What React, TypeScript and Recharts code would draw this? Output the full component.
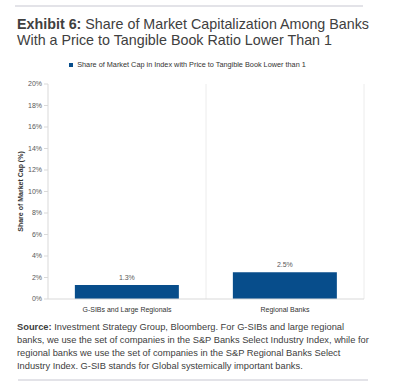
import React from 'react';
import { BarChart, Bar, XAxis, YAxis, CartesianGrid, Legend, LabelList } from 'recharts';

const categories = ['G-SIBs and Large Regionals', 'Regional Banks'];
const shareValues = [1.3, 2.5];
const yTicks = [0, 2, 4, 6, 8, 10, 12, 14, 16, 18, 20];

const data = categories.map((name, i) => ({ name, share: shareValues[i] }));

const font = 'Arial, "Liberation Sans", sans-serif';
const textGray = '#595959';

export default function App() {
  return (
    <div style={{ position: 'absolute', left: 0, top: 0, width: 395, height: 385, background: '#fff', fontFamily: font }}>
      <div style={{ position: 'absolute', left: 15, top: 5, width: 348, height: 2, background: '#e3e3e8' }} />
      <div style={{ position: 'absolute', left: 17, top: 16, fontSize: 14.3, lineHeight: '16px', color: '#404040' }}>
        <b>Exhibit 6:</b> Share of Market Capitalization Among Banks
        <br />
        With a Price to Tangible Book Ratio Lower Than 1
      </div>
      <div style={{ position: 'absolute', left: 0, top: 0 }}>
        <BarChart
          width={395}
          height={385}
          data={data}
          margin={{ top: 75, right: 31, left: 8, bottom: 66 }}
          barCategoryGap="17%"
        >
          <CartesianGrid
            horizontal={false}
            stroke="#ececec"
            verticalCoordinatesGenerator={({ offset }: any) => [
              offset.left + offset.width / 2,
              offset.left + offset.width,
            ]}
          />
          <XAxis
            dataKey="name"
            tickLine={false}
            axisLine={{ stroke: '#d9d9d9' }}
            tick={{ fontSize: 7, fill: '#333' }}
            height={20}
          />
          <YAxis
            domain={[0, 20]}
            ticks={yTicks}
            width={40}
            tickFormatter={(v: number) => `${v}%`}
            tick={{ fontSize: 7, fill: textGray }}
            tickSize={4}
            tickLine={{ stroke: '#d9d9d9' }}
            axisLine={{ stroke: '#d9d9d9' }}
            label={{
              value: 'Share of Market Cap (%)',
              angle: -90,
              position: 'insideLeft',
              offset: 13,
              style: { fontSize: 7, fontWeight: 'bold', fill: '#333', textAnchor: 'middle' },
            }}
          />
          <Legend
            verticalAlign="top"
            iconType="square"
            iconSize={4}
            wrapperStyle={{ top: 60, left: 0, width: 385, fontSize: 7.3, color: '#333' }}
            formatter={(value: string) => <span style={{ color: '#333' }}>{value}</span>}
          />
          <Bar
            dataKey="share"
            name="Share of Market Cap in Index with Price to Tangible Book Lower than 1"
            fill="#074d8b"
            isAnimationActive={false}
          >
            <LabelList
              dataKey="share"
              position="top"
              formatter={(v: number) => `${v.toFixed(1)}%`}
              style={{ fontSize: 7, fill: textGray }}
            />
          </Bar>
        </BarChart>
      </div>
      <div style={{ position: 'absolute', left: 17, top: 321, width: 370, fontSize: 9.3, lineHeight: '13px', color: '#404040' }}>
        <b>Source:</b> Investment Strategy Group, Bloomberg. For G-SIBs and large regional
        <br />
        banks, we use the set of companies in the S&amp;P Banks Select Industry Index, while for
        <br />
        regional banks we use the set of companies in the S&amp;P Regional Banks Select
        <br />
        Industry Index. G-SIB stands for Global systemically important banks.
      </div>
      <div style={{ position: 'absolute', left: 18, top: 379, width: 350, height: 2, background: '#e3e3e8' }} />
    </div>
  );
}
